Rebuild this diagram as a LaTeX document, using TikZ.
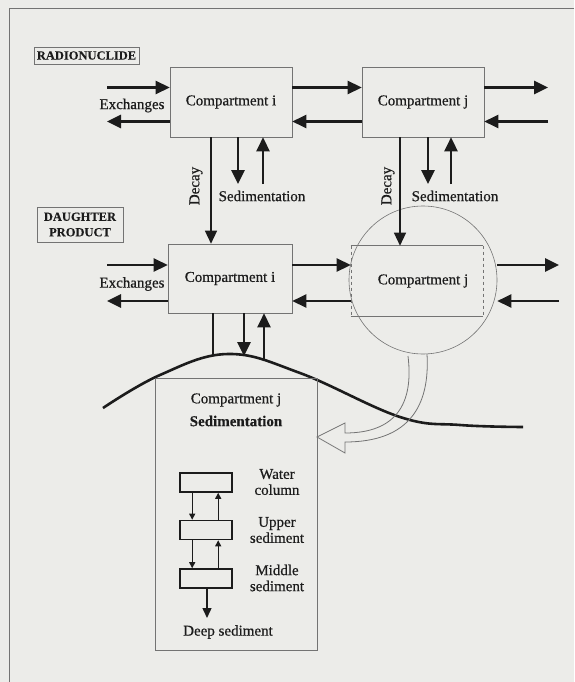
\documentclass[tikz,border=0pt]{standalone}
\usepackage{fontspec}
\setmainfont{Liberation Serif}[FakeBold=0.6, BoldFeatures={FakeBold=0.3}]
\usetikzlibrary{positioning,calc,arrows.meta,shapes}
\definecolor{paper}{RGB}{236,236,233}
\definecolor{ink}{RGB}{28,28,28}
\definecolor{rim}{RGB}{115,115,115}

\tikzset{
  box/.style={draw=rim, line width=0.6pt, minimum width=122pt, minimum height=70pt, font=\fontsize{15}{17}\selectfont},
  tag/.style={draw=rim, line width=0.8pt, font=\bfseries\fontsize{12.5}{15.5}\selectfont, align=center, inner sep=1pt},
  lbl/.style={font=\fontsize{15}{16}\selectfont, align=center, inner sep=0pt},
  flow/.style={ink, line width=2.6pt, -{Triangle[length=14pt,width=13pt]}},
  fall/.style={ink, line width=1.4pt, -{Triangle[length=13pt,width=12pt]}},
  layer/.style={draw=ink, line width=1.6pt, minimum width=52pt, minimum height=19pt},
  tiny/.style={ink, line width=1.2pt, -{Triangle[length=6pt,width=6pt]}}
}

\begin{document}
\begin{tikzpicture}[x=1pt, y=-1pt, text=ink]
\fill[paper] (0,0) rectangle (574,682);
\useasboundingbox (0,0) rectangle (574,682);
\draw[rim, line width=0.8pt] (574,8) -- (9,8) -- (9,682);

\node[tag, minimum width=105pt, minimum height=17pt] (radio) at (86.5,55.5) {RADIONUCLIDE};
\node[tag, minimum width=86pt, minimum height=35pt] (daughter) at (80,224.5) {DAUGHTER\\PRODUCT};

% compartments
\node[box] (ci1) at (231,102) {Compartment i};
\node[box] (cj1) at (423,102) {Compartment j};
\node[box, minimum width=124pt, minimum height=69pt] (ci2) at (230,278.5) {Compartment i};
\node[circle, draw=rim, line width=0.6pt, minimum size=148pt] (ring) at (423,280) {};
\node[box, draw=none, minimum width=132pt] (cj2) at (417,281) {\hspace{12pt}Compartment j};
\draw[rim, line width=0.6pt] (cj2.north west) -- (cj2.north east);
\draw[rim, line width=0.6pt] (cj2.south west) -- (cj2.south east);
\draw[rim, line width=0.4pt, dashed] (cj2.north west) -- (cj2.south west);
\draw[rim, line width=0.4pt, dashed] (cj2.north east) -- (cj2.south east);

% exchanges
\foreach \r/\right/\ya/\yb/\xr in {1/cj1/87.5/121.5/548, 2/ring/265/301/559} {
  \coordinate (wa\r) at (107,\ya);
  \coordinate (wb\r) at (107,\yb);
  \coordinate (ea\r) at (\xr,\ya);
  \coordinate (eb\r) at (\xr,\yb);
  \draw[flow] (wa\r) -- (wa\r -| ci\r.west);
  \draw[flow] (wb\r -| ci\r.west) -- (wb\r);
  \draw[flow] (wa\r -| ci\r.east) -- (wa\r -| cj\r.west);
  \draw[flow] (wb\r -| cj\r.west) -- (wb\r -| ci\r.east);
  \draw[flow] (ea\r -| \right.east) -- (ea\r);
  \draw[flow] (eb\r) -- (eb\r -| \right.east);
  \node[lbl] (ex\r) at (132,{(\ya+\yb)/2+1}) {Exchanges};
}

% decay
\coordinate (dk1) at (211,0);
\coordinate (dk2) at (400,0);
\draw[fall] (dk1 |- ci1.south) -- (dk1 |- ci2.north);
\draw[fall] (dk2 |- cj1.south) -- (dk2 |- cj2.north);
\node[lbl, rotate=90] (decay1) at (196,186) {Decay};
\node[lbl, rotate=90] (decay2) at (388,186) {Decay};

% sedimentation
\foreach \c/\xd/\xu/\xt in {ci1/238/263/262, cj1/428/451/455} {
  \coordinate (sd\c) at (\xd,184);
  \coordinate (su\c) at (\xu,184);
  \draw[flow] (sd\c |- \c.south) -- (sd\c);
  \draw[flow] (su\c) -- (su\c |- \c.south);
  \node[lbl] (st\c) at (\xt,196) {Sedimentation};
}

\coordinate (gk) at (213,355);
\coordinate (gd) at (244,356);
\coordinate (gu) at (264,361);
\draw[ink, line width=1.4pt] (gk |- ci2.south) -- (gk);
\draw[flow] (gd |- ci2.south) -- (gd);
\draw[flow] (gu) -- (gu |- ci2.south);

\draw[ink, line width=2.6pt] plot[smooth, tension=0.65] coordinates {(103,408) (160,375) (228,354) (300,373) (400,417) (460,425) (523,427)};

% sediment compartment
\node[draw=rim, line width=0.6pt, minimum width=162pt, minimum height=272pt] (sed) at (236,514) {};
\node[lbl] (sedA) at (236,400) {Compartment j};
\node[lbl, font=\bfseries\fontsize{15}{16}\selectfont] (sedB) at (236,421) {Sedimentation};

\draw[rim, line width=0.8pt] (408,356) .. controls (414,405) and (395,433) .. (345,433) -- (345,423) -- (317,437) -- (345,453) -- (345,442) .. controls (410,442) and (430,405) .. (427,354);

\node[layer] (wat) at (206,482.5) {};
\node[layer] (upp) at (206,530) {};
\node[layer] (mid) at (206,578.5) {};
\foreach \a/\b in {wat/upp, upp/mid} {
  \draw[tiny] ([xshift=13pt]\a.south west) -- ([xshift=13pt]\b.north west);
  \draw[tiny] ([xshift=39pt]\b.north west) -- ([xshift=39pt]\a.south west);
}
\coordinate (deep) at (207,618);
\draw[ink, line width=1.4pt, -{Triangle[length=10pt,width=9pt]}] (deep |- mid.south) -- (deep);
\node[lbl] (deepT) at (228,632) {Deep sediment};
\node[lbl] (watT) at (277,482) {Water\\column};
\node[lbl] (uppT) at (277,530) {Upper\\sediment};
\node[lbl] (midT) at (277,578) {Middle\\sediment};
\end{tikzpicture}
\end{document}
